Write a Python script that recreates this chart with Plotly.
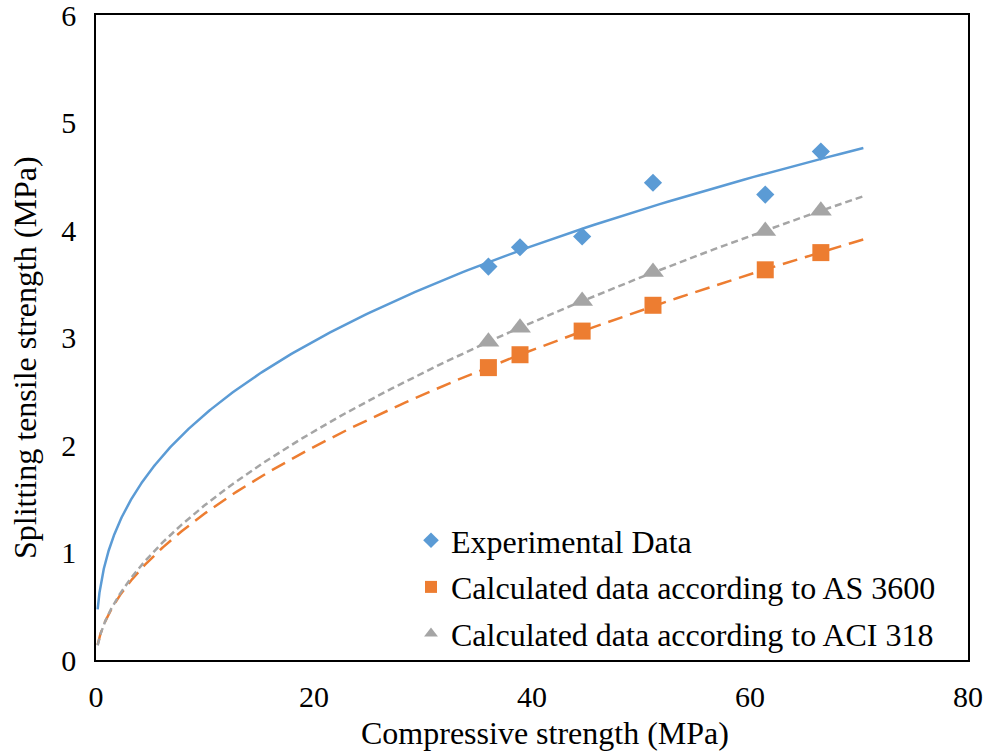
import numpy as np
import plotly.graph_objects as go

# Compressive strength of the mixes (MPa)
compressive = [36.0, 38.9, 44.6, 51.1, 61.4, 66.5]
# Splitting tensile strength (MPa)
experimental = [3.66, 3.84, 3.94, 4.44, 4.33, 4.73]
as3600 = [2.72, 2.84, 3.06, 3.30, 3.63, 3.79]
aci318 = [2.96, 3.09, 3.34, 3.61, 3.99, 4.18]

series_names = [
    "Experimental Data",
    "Calculated data according to AS 3600",
    "Calculated data according to ACI 318",
]
x_ticks = [0, 20, 40, 60, 80]
y_ticks = [0, 1, 2, 3, 4, 5, 6]

FONT = "Liberation Serif, Times New Roman, serif"
BLUE, ORANGE, GRAY = "#5B9BD5", "#ED7D31", "#A5A5A5"

# plot-area box in pixels
W, H = 992, 755
PL, PR, PT, PB = 96, 968, 15, 660


def power_trend(x, y, x0=0.15, x1=70.4, n=400):
    """Least-squares power trendline y = a * x^b (fit in log-log space)."""
    b, ln_a = np.polyfit(np.log(x), np.log(y), 1)
    xs = np.geomspace(x0, x1, n)
    return xs, np.exp(ln_a) * xs ** b


def to_paper(px, py):
    return (px - PL) / (PR - PL), (PB - py) / (PB - PT)


fig = go.Figure()

styles = [
    (experimental, BLUE, "diamond", 14, "solid"),
    (as3600, ORANGE, "square", 17, "15px,8px"),
    (aci318, GRAY, "triangle-up", 19, "7px,4px"),
]

# trendlines first so markers sit on top
for (vals, color, sym, size, dash) in styles:
    tx, ty = power_trend(compressive, vals)
    fig.add_trace(go.Scatter(
        x=tx, y=ty, mode="lines", showlegend=False, hoverinfo="skip",
        line=dict(color=color, width=2.5, dash=dash),
    ))

for i, (vals, color, sym, size, dash) in enumerate(styles):
    fig.add_trace(go.Scatter(
        x=compressive, y=vals, mode="markers", name=series_names[i],
        legendgroup=f"g{i}",
        marker=dict(symbol=sym, size=size, color=color, line=dict(width=0)),
    ))

axis_common = dict(
    showline=True, linecolor="black", linewidth=1.5, mirror=True,
    showgrid=False, zeroline=False, automargin=False,
    ticks="outside", tickcolor="rgba(0,0,0,0)",
    tickfont=dict(family=FONT, size=30, color="black"),
    ticklabeloverflow="allow",
)

fig.update_xaxes(range=[0, 80], tickvals=x_ticks, ticklen=9, **axis_common)
fig.update_yaxes(range=[0, 6.0005], tickvals=y_ticks, ticklen=12, **axis_common)

xt_x, xt_y = to_paper(545, 733)
yt_x, yt_y = to_paper(25, 358)
lg_x, lg_y = to_paper(411, 513)

fig.update_layout(
    width=W, height=H,
    margin=dict(l=PL, r=W - PR, t=PT, b=H - PB),
    paper_bgcolor="white", plot_bgcolor="white",
    font=dict(family=FONT, color="black"),
    showlegend=True,
    legend=dict(
        x=lg_x, y=lg_y, xanchor="left", yanchor="top",
        bgcolor="rgba(0,0,0,0)", borderwidth=0,
        font=dict(family=FONT, size=32, color="black"),
        itemsizing="constant", tracegroupgap=2,
    ),
    annotations=[
        dict(text="Compressive strength (MPa)", x=xt_x, y=xt_y,
             xref="paper", yref="paper", xanchor="center", yanchor="middle",
             showarrow=False, font=dict(family=FONT, size=32, color="black")),
        dict(text="Splitting tensile strength (MPa)", x=yt_x, y=yt_y,
             xref="paper", yref="paper", xanchor="center", yanchor="middle",
             textangle=-90, showarrow=False,
             font=dict(family=FONT, size=32, color="black")),
    ],
)

fig.write_html("out.html")
